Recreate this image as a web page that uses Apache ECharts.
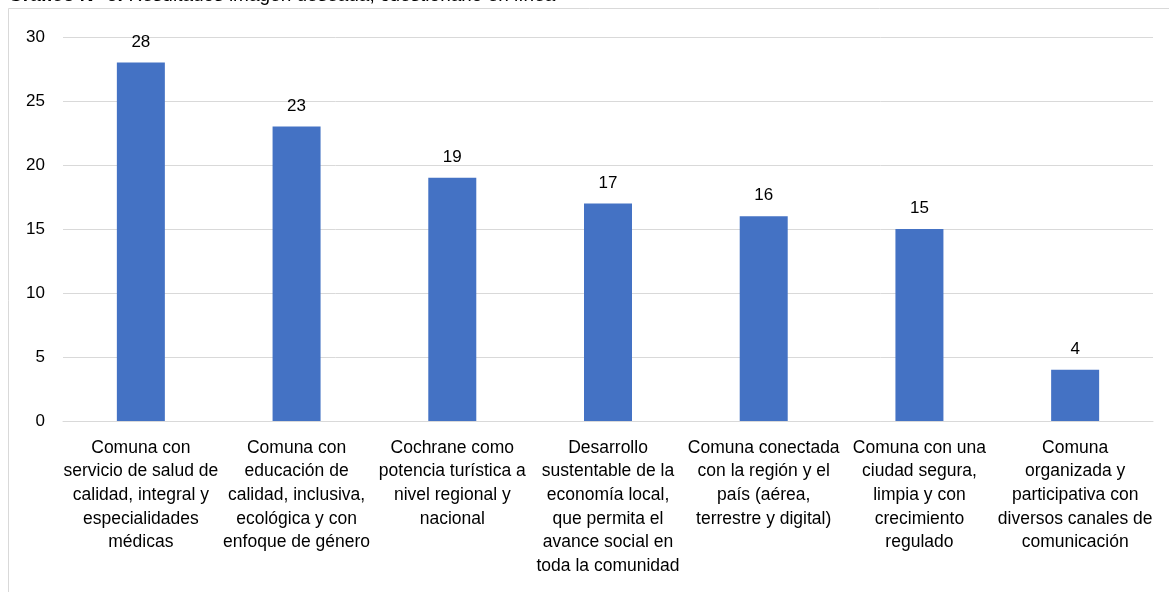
<!DOCTYPE html>
<html lang="es">
<head>
    <meta charset="UTF-8">
    <title>Gráfico N° 6</title>
    <script src="https://cdn.jsdelivr.net/npm/echarts@6/dist/echarts.min.js"></script>
    <style>
        html, body { margin: 0; padding: 0; background: #fff; }
        #main { width: 1169px; height: 592px; }
    </style>
</head>
<body>
    <div id="main"></div>
    <script type="text/javascript">
        // categorías (con los saltos de línea del original)
        var categorias = [
            'Comuna con\nservicio de salud de\ncalidad, integral y\nespecialidades\nmédicas',
            'Comuna con\neducación de\ncalidad, inclusiva,\necológica y con\nenfoque de género',
            'Cochrane como\npotencia turística a\nnivel regional y\nnacional',
            'Desarrollo\nsustentable de la\neconomía local,\nque permita el\navance social en\ntoda la comunidad',
            'Comuna conectada\ncon la región y el\npaís (aérea,\nterrestre y digital)',
            'Comuna con una\nciudad segura,\nlimpia y con\ncrecimiento\nregulado',
            'Comuna\norganizada y\nparticipativa con\ndiversos canales de\ncomunicación'
        ];
        var valores = [28, 23, 19, 17, 16, 15, 4];
        var titulo = 'Resultados imagen deseada, cuestionario en línea';

        var fuente = '"Liberation Sans", Arial, sans-serif';
        var myChart = echarts.init(document.getElementById('main'));

        var option = {
            animation: false,
            backgroundColor: '#fff',
            textStyle: { fontFamily: fuente },
            graphic: [
                {
                    type: 'rect',
                    shape: { x: 8.5, y: 8.5, width: 1300, height: 700 },
                    style: { fill: 'none', stroke: '#d9d9d9', lineWidth: 1 },
                    silent: true
                },
                {
                    type: 'text',
                    x: 8,
                    y: 5,
                    style: {
                        text: '{b|Gráfico N° 6:} ' + titulo,
                        font: '19px ' + fuente,
                        fill: '#000',
                        verticalAlign: 'bottom',
                        rich: {
                            b: { fontWeight: 'bold', fontSize: 19, fontFamily: fuente, fill: '#000' }
                        }
                    },
                    silent: true
                }
            ],
            grid: {
                left: 63,
                right: 16,
                top: 37,
                bottom: 171
            },
            xAxis: {
                type: 'category',
                data: categorias,
                axisTick: { show: false },
                axisLine: { lineStyle: { color: '#d9d9d9', width: 1 } },
                axisLabel: {
                    interval: 0,
                    color: '#000',
                    fontSize: 17.5,
                    lineHeight: 23.7,
                    margin: 15,
                    fontFamily: fuente
                }
            },
            yAxis: {
                type: 'value',
                min: 0,
                max: 30,
                interval: 5,
                axisLine: { show: false },
                axisTick: { show: false },
                splitLine: { lineStyle: { color: '#d9d9d9', width: 1 } },
                axisLabel: {
                    color: '#000',
                    fontSize: 17,
                    margin: 18,
                    fontFamily: fuente
                }
            },
            series: [{
                type: 'bar',
                data: valores,
                barWidth: 48,
                itemStyle: { color: '#4472C4' },
                label: {
                    show: true,
                    position: 'top',
                    distance: 12,
                    color: '#000',
                    fontSize: 17,
                    fontFamily: fuente
                }
            }]
        };

        option && myChart.setOption(option);
    </script>
</body>
</html>
